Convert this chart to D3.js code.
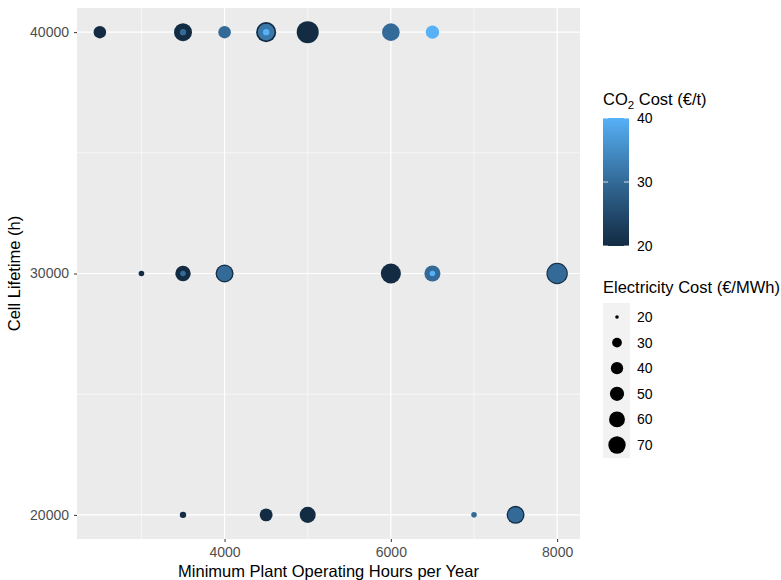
<!DOCTYPE html>
<html><head><meta charset="utf-8">
<script src="https://cdn.jsdelivr.net/npm/d3@7"></script>
<style>body{margin:0;background:#fff} text{font-family:"Liberation Sans",Arial,Helvetica,sans-serif}</style>
</head><body><svg id="c" width="781" height="580"></svg>
<script>
// ---- data ----
const hours    = [2500,3500,3500,4000,4500,4500,4500,5000,6000,6500, 3000,3500,3500,4000,4000,6000,6500,6500,8000,8000, 3500,4500,5000,7000,7500,7500];
const lifetime = [40000,40000,40000,40000,40000,40000,40000,40000,40000,40000, 30000,30000,30000,30000,30000,30000,30000,30000,30000,30000, 20000,20000,20000,20000,20000,20000];
const co2Cost  = [20,20,30,30,20,32,40,20,30,40, 20,20,30,20,30,20,30,40,20,30, 20,20,20,30,20,30];
const elecCost = [41,75,22,41,92,65,22,110,72,45, 21,57,21,75,57,92,61,21,104,86, 22,43,61,21,75,57];
const xTicks = [4000,6000,8000];
const xMinor = [3000,5000,7000];
const yTicks = [20000,30000,40000];
const yMinor = [25000,35000];
const co2Breaks = [20,30,40];
const sizeBreaks = [20,30,40,50,60,70];

const svg = d3.select("#c");
const P = {l:77, r:580, t:8, b:539};
const x = d3.scaleLinear().domain([2225,8275]).range([P.l,P.r]);
const y = d3.scaleLinear().domain([19000,41000]).range([P.b,P.t]);
const col = d3.scaleLinear().domain([20,40]).range(["#132B43","#56B1F7"]).interpolate(d3.interpolateLab).clamp(true);
const sizeT = d3.scaleLinear().domain([20,110]).range([0,1]).clamp(true);
const sizeR = d3.scaleLinear().domain([0,1]).range([1.83,11]);
const r = v => sizeR(Math.sqrt(sizeT(v)));

// panel
svg.append("rect").attr("x",P.l).attr("y",P.t).attr("width",P.r-P.l).attr("height",P.b-P.t).attr("fill","#EBEBEB");
const g = svg.append("g");
g.selectAll(".xm").data(xMinor).join("line").attr("x1",d=>x(d)).attr("x2",d=>x(d)).attr("y1",P.t).attr("y2",P.b).attr("stroke","#fff").attr("stroke-width",0.6);
g.selectAll(".ym").data(yMinor).join("line").attr("y1",d=>y(d)).attr("y2",d=>y(d)).attr("x1",P.l).attr("x2",P.r).attr("stroke","#fff").attr("stroke-width",0.6);
g.selectAll(".xM").data(xTicks).join("line").attr("x1",d=>x(d)).attr("x2",d=>x(d)).attr("y1",P.t).attr("y2",P.b).attr("stroke","#fff").attr("stroke-width",1.2);
g.selectAll(".yM").data(yTicks).join("line").attr("y1",d=>y(d)).attr("y2",d=>y(d)).attr("x1",P.l).attr("x2",P.r).attr("stroke","#fff").attr("stroke-width",1.2);

// axes
const xAxis = svg.append("g").attr("transform",`translate(0,${P.b})`).call(d3.axisBottom(x).tickValues(xTicks).tickSize(3).tickPadding(5).tickFormat(d3.format("d")));
const yAxis = svg.append("g").attr("transform",`translate(${P.l},0)`).call(d3.axisLeft(y).tickValues(yTicks).tickSize(3).tickPadding(5).tickFormat(d3.format("d")));
[xAxis,yAxis].forEach(a=>{
  a.select(".domain").remove();
  a.selectAll(".tick line").attr("stroke","#333").attr("stroke-width",1);
  a.selectAll(".tick text").attr("fill","#4D4D4D").style("font-size","14px").style("font-family",'"Liberation Sans",Arial,sans-serif');
});

svg.append("text").attr("x",(P.l+P.r)/2).attr("y",577).attr("text-anchor","middle").style("font-size","16.5px").attr("fill","#000").text("Minimum Plant Operating Hours per Year");
svg.append("text").attr("transform",`translate(20,${(P.t+P.b)/2}) rotate(-90)`).attr("text-anchor","middle").style("font-size","16.5px").attr("fill","#000").text("Cell Lifetime (h)");

// points
const pts = hours.map((h,i)=>({h, l:lifetime[i], c:co2Cost[i], e:elecCost[i]}));
svg.append("g").selectAll("circle").data(pts).join("circle")
  .attr("cx",d=>x(d.h)).attr("cy",d=>y(d.l)).attr("r",d=>r(d.e)).attr("fill",d=>col(d.c));

// colour legend
const LX = 603;
const t1 = svg.append("text").attr("x",LX).attr("y",105).style("font-size","16.5px").attr("fill","#000");
t1.append("tspan").text("CO");
t1.append("tspan").attr("dy",4).style("font-size","11.5px").text("2");
t1.append("tspan").attr("dy",-4).text(" Cost (€/t)");
const cb = d3.scaleLinear().domain([20,40]).range([246,118]);
const defs = svg.append("defs");
const grad = defs.append("linearGradient").attr("id","cg").attr("x1",0).attr("y1",1).attr("x2",0).attr("y2",0);
d3.range(0,1.0001,0.05).forEach(t=>grad.append("stop").attr("offset",t).attr("stop-color",col(20+20*t)));
svg.append("rect").attr("x",LX).attr("y",118).attr("width",26).attr("height",128).attr("fill","url(#cg)");
co2Breaks.forEach(b=>{
  svg.append("line").attr("x1",LX).attr("x2",LX+5).attr("y1",cb(b)).attr("y2",cb(b)).attr("stroke","#fff").attr("stroke-width",0.8);
  svg.append("line").attr("x1",LX+21).attr("x2",LX+26).attr("y1",cb(b)).attr("y2",cb(b)).attr("stroke","#fff").attr("stroke-width",0.8);
  svg.append("text").attr("x",637).attr("y",cb(b)+5).style("font-size","14px").attr("fill","#000").text(b);
});

// size legend
svg.append("text").attr("x",LX).attr("y",293).style("font-size","16.5px").attr("fill","#000").text("Electricity Cost (€/MWh)");
const ky = d3.scaleLinear().domain([0,sizeBreaks.length-1]).range([317,445]);
svg.append("rect").attr("x",LX).attr("y",303).attr("width",27).attr("height",155).attr("fill","#F2F2F2");
sizeBreaks.forEach((b,i)=>{
  svg.append("circle").attr("cx",617).attr("cy",ky(i)).attr("r",r(b)).attr("fill","#000");
  svg.append("text").attr("x",637).attr("y",ky(i)+5).style("font-size","14px").attr("fill","#000").text(b);
});
</script></body></html>
